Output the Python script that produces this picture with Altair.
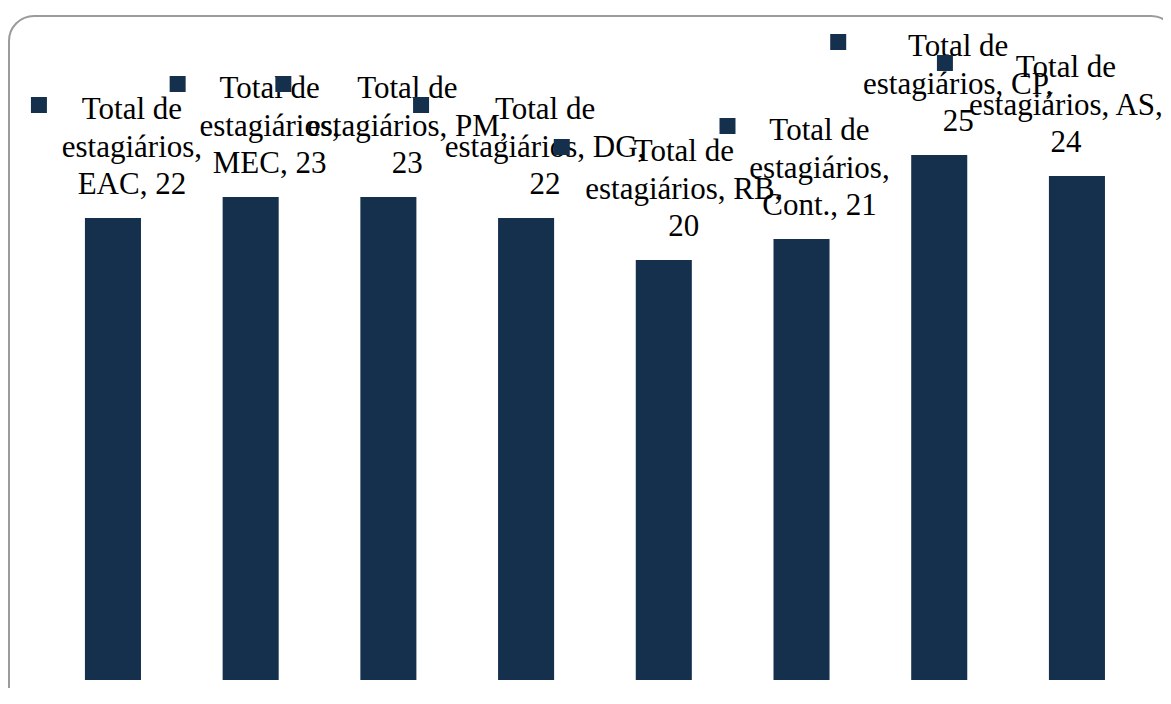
import altair as alt
import pandas as pd

# ---- data ----
series_name = "Total de estagiários"
categories = ["EAC", "MEC", "PM", "DG", "RB", "Cont.", "CP", "AS"]
values = [22, 23, 23, 22, 20, 21, 25, 24]

# ---- label layout (how the original wraps / shifts its data labels) ----
break_before_category = [True, True, False, False, False, True, False, False]
label_dx = [19, 19, 19, 19, 20, 18, 19, -11]             # px, text centre vs bar centre
key_dx = [-74, -73, -105, -105, -102, -74, -101, -132]  # px, legend key vs bar centre
HALF_BAND = 28  # offsets in Vega-Lite are measured from the band start

NAVY = "#15304D"
FONT = "Liberation Serif"

first, second = series_name.rsplit(" ", 1)
labels = []
for cat, val, brk in zip(categories, values, break_before_category):
    if brk:
        labels.append(f"{first}\n{second},\n{cat}, {val}")
    else:
        labels.append(f"{first}\n{second}, {cat},\n{val}")

df = pd.DataFrame({
    "cat": categories,
    "val": values,
    "label": labels,
    "ldx": [d + HALF_BAND for d in label_dx],
    "kdx": [d + HALF_BAND for d in key_dx],
})

xenc = alt.X("cat:N", sort=categories, axis=None,
             scale=alt.Scale(paddingInner=0.593, paddingOuter=0.490, align=0.570))
yenc = alt.Y("val:Q", axis=None, scale=alt.Scale(domain=[0, 32], nice=False, zero=True))

frame = alt.Chart(pd.DataFrame({"f": [0]})).mark_rect(
    fillOpacity=0, stroke="#9b9b9b", strokeWidth=2, cornerRadius=25
).encode(x=alt.value(1), x2=alt.value(1168), y=alt.value(8), y2=alt.value(704))

bars = alt.Chart(df).mark_bar(color=NAVY).encode(x=xenc, y=yenc)

text = alt.Chart(df).mark_text(
    font=FONT, fontSize=31, lineBreak="\n", lineHeight=37.5,
    baseline="alphabetic", align="center", dy=-99, color="black"
).encode(x=xenc, y=yenc, xOffset=alt.XOffset("ldx:Q", scale=None), text="label:N")

keys = alt.Chart(df).mark_square(
    size=256, color=NAVY, opacity=1, filled=True, yOffset=-113
).encode(x=xenc, y=yenc, xOffset=alt.XOffset("kdx:Q", scale=None))

chart = alt.layer(frame, bars, text, keys).properties(
    width=1155, height=672,
    autosize=alt.AutoSizeParams(type="none"),
    padding={"left": 0, "top": 0, "right": 0, "bottom": 8},
).configure_view(stroke=None)

chart.save("out.html", embed_options={"renderer": "svg", "actions": False})
